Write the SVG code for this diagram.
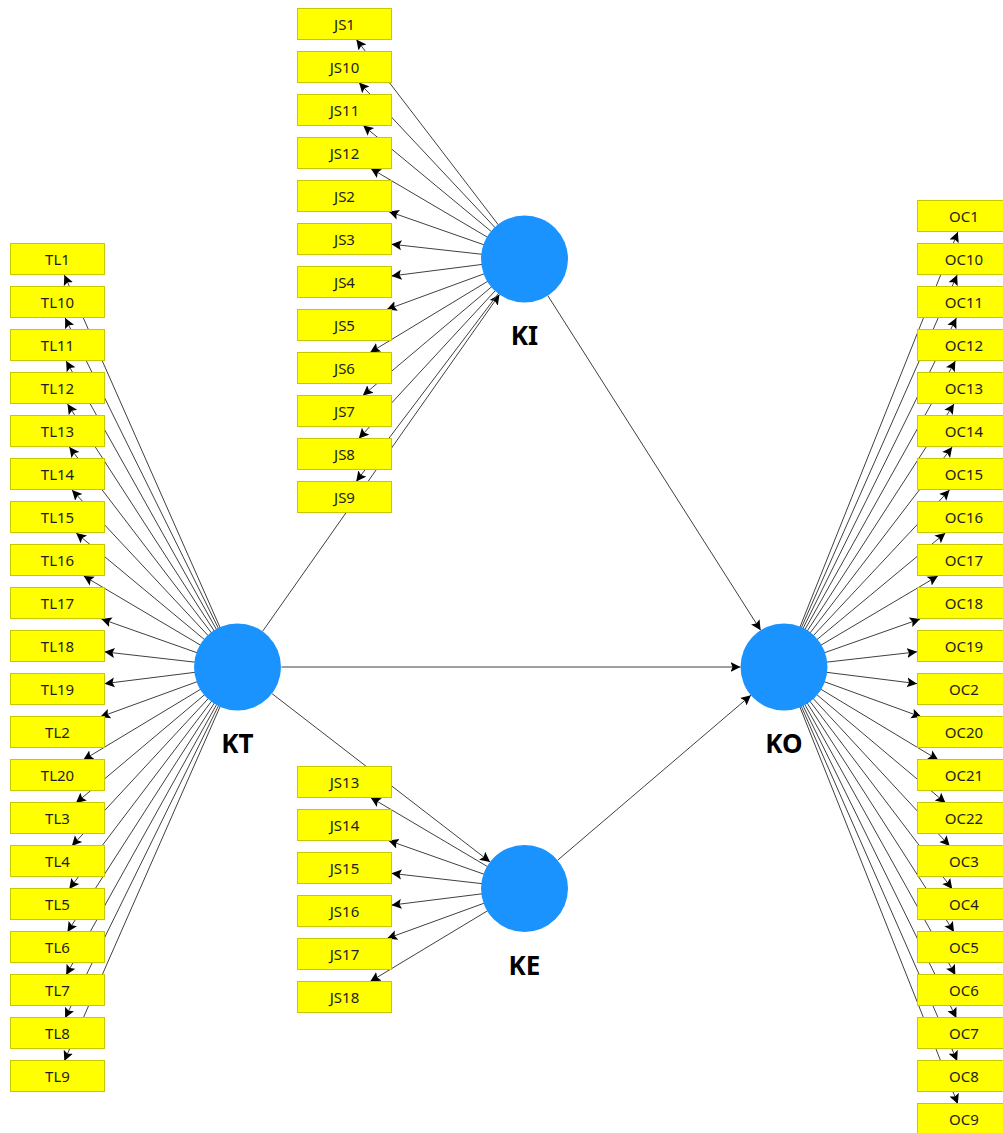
<svg xmlns="http://www.w3.org/2000/svg" width="1003" height="1133" viewBox="0 0 1003 1133">
<style>
.box{fill:#ffff00;stroke:#c8c800;stroke-width:1}
.bt{font-family:"Noto Sans","Liberation Sans",sans-serif;font-size:15px;fill:#1e1e1e;text-anchor:middle}
.lv{fill:#1a93ff}
.lt{font-family:"Noto Sans","Liberation Sans",sans-serif;font-size:26px;font-weight:bold;fill:#000;text-anchor:middle}
.c{stroke:#404040;stroke-width:1;fill:none;marker-end:url(#ah)}
</style>
<defs>
<marker id="ah" markerUnits="userSpaceOnUse" markerWidth="12" markerHeight="12" refX="10" refY="5.5" orient="auto">
<path d="M0,0.5 L10,5.5 L0,10.5 L2,5.5 Z" fill="#000"/>
</marker>
</defs>
<rect width="1003" height="1133" fill="#fff"/>
<g id="connectors">
<line class="c" x1="262.53" y1="631.42" x2="499.47" y2="294.58"/>
<line class="c" x1="281.5" y1="667" x2="740.5" y2="667"/>
<line class="c" x1="271.94" y1="693.58" x2="490.06" y2="861.92"/>
<line class="c" x1="547.85" y1="295.71" x2="760.65" y2="630.29"/>
<line class="c" x1="557.59" y1="860.26" x2="750.91" y2="695.24"/>
<line class="c" x1="524.5" y1="259" x2="356.37" y2="39.5"/>
<line class="c" x1="524.5" y1="259" x2="359.03" y2="82.5"/>
<line class="c" x1="524.5" y1="259" x2="363.22" y2="125.5"/>
<line class="c" x1="524.5" y1="259" x2="370.82" y2="168.5"/>
<line class="c" x1="524.5" y1="259" x2="388.79" y2="211.5"/>
<line class="c" x1="524.5" y1="259" x2="391.5" y2="244.22"/>
<line class="c" x1="524.5" y1="259" x2="391.5" y2="276"/>
<line class="c" x1="524.5" y1="259" x2="386.77" y2="309.5"/>
<line class="c" x1="524.5" y1="259" x2="370.1" y2="352.5"/>
<line class="c" x1="524.5" y1="259" x2="362.85" y2="395.5"/>
<line class="c" x1="524.5" y1="259" x2="358.81" y2="438.5"/>
<line class="c" x1="524.5" y1="259" x2="356.22" y2="481.5"/>
<line class="c" x1="524.5" y1="888.5" x2="370.7" y2="797.5"/>
<line class="c" x1="524.5" y1="888.5" x2="388.44" y2="840.5"/>
<line class="c" x1="524.5" y1="888.5" x2="391.5" y2="873.35"/>
<line class="c" x1="524.5" y1="888.5" x2="391.5" y2="905.13"/>
<line class="c" x1="524.5" y1="888.5" x2="387.1" y2="938.5"/>
<line class="c" x1="524.5" y1="888.5" x2="370.21" y2="981.5"/>
<line class="c" x1="237.5" y1="667" x2="64.35" y2="275"/>
<line class="c" x1="237.5" y1="667" x2="65.15" y2="318"/>
<line class="c" x1="237.5" y1="667" x2="66.18" y2="361"/>
<line class="c" x1="237.5" y1="667" x2="67.52" y2="404"/>
<line class="c" x1="237.5" y1="667" x2="69.35" y2="447"/>
<line class="c" x1="237.5" y1="667" x2="71.99" y2="490"/>
<line class="c" x1="237.5" y1="667" x2="76.16" y2="533"/>
<line class="c" x1="237.5" y1="667" x2="83.7" y2="576"/>
<line class="c" x1="237.5" y1="667" x2="101.44" y2="619"/>
<line class="c" x1="237.5" y1="667" x2="104.5" y2="651.85"/>
<line class="c" x1="237.5" y1="667" x2="104.5" y2="683.63"/>
<line class="c" x1="237.5" y1="667" x2="100.1" y2="717"/>
<line class="c" x1="237.5" y1="667" x2="83.21" y2="760"/>
<line class="c" x1="237.5" y1="667" x2="75.92" y2="803"/>
<line class="c" x1="237.5" y1="667" x2="71.84" y2="846"/>
<line class="c" x1="237.5" y1="667" x2="69.25" y2="889"/>
<line class="c" x1="237.5" y1="667" x2="67.45" y2="932"/>
<line class="c" x1="237.5" y1="667" x2="66.12" y2="975"/>
<line class="c" x1="237.5" y1="667" x2="65.11" y2="1018"/>
<line class="c" x1="237.5" y1="667" x2="64.31" y2="1061"/>
<line class="c" x1="784" y1="667" x2="957.81" y2="232"/>
<line class="c" x1="784" y1="667" x2="957.15" y2="275"/>
<line class="c" x1="784" y1="667" x2="956.35" y2="318"/>
<line class="c" x1="784" y1="667" x2="955.32" y2="361"/>
<line class="c" x1="784" y1="667" x2="953.98" y2="404"/>
<line class="c" x1="784" y1="667" x2="952.15" y2="447"/>
<line class="c" x1="784" y1="667" x2="949.51" y2="490"/>
<line class="c" x1="784" y1="667" x2="945.34" y2="533"/>
<line class="c" x1="784" y1="667" x2="937.8" y2="576"/>
<line class="c" x1="784" y1="667" x2="920.06" y2="619"/>
<line class="c" x1="784" y1="667" x2="917" y2="651.85"/>
<line class="c" x1="784" y1="667" x2="917" y2="683.63"/>
<line class="c" x1="784" y1="667" x2="921.4" y2="717"/>
<line class="c" x1="784" y1="667" x2="938.29" y2="760"/>
<line class="c" x1="784" y1="667" x2="945.58" y2="803"/>
<line class="c" x1="784" y1="667" x2="949.66" y2="846"/>
<line class="c" x1="784" y1="667" x2="952.25" y2="889"/>
<line class="c" x1="784" y1="667" x2="954.05" y2="932"/>
<line class="c" x1="784" y1="667" x2="955.38" y2="975"/>
<line class="c" x1="784" y1="667" x2="956.39" y2="1018"/>
<line class="c" x1="784" y1="667" x2="957.19" y2="1061"/>
<line class="c" x1="784" y1="667" x2="957.83" y2="1104"/>
</g>
<g id="KI"><circle class="lv" cx="524.5" cy="259" r="43.5"/><text class="lt" x="524.5" y="345">KI</text></g>
<g id="KT"><circle class="lv" cx="237.5" cy="667" r="43.5"/><text class="lt" x="237.5" y="753">KT</text></g>
<g id="KE"><circle class="lv" cx="524.5" cy="888.5" r="43.5"/><text class="lt" x="524.5" y="975">KE</text></g>
<g id="KO"><circle class="lv" cx="784" cy="667" r="43.5"/><text class="lt" x="784" y="753">KO</text></g>
<g id="JS1"><rect class="box" x="297.5" y="8.5" width="94" height="31"/><text class="bt" x="344.5" y="29.5">JS1</text></g>
<g id="JS10"><rect class="box" x="297.5" y="51.5" width="94" height="31"/><text class="bt" x="344.5" y="72.5">JS10</text></g>
<g id="JS11"><rect class="box" x="297.5" y="94.5" width="94" height="31"/><text class="bt" x="344.5" y="115.5">JS11</text></g>
<g id="JS12"><rect class="box" x="297.5" y="137.5" width="94" height="31"/><text class="bt" x="344.5" y="158.5">JS12</text></g>
<g id="JS2"><rect class="box" x="297.5" y="180.5" width="94" height="31"/><text class="bt" x="344.5" y="201.5">JS2</text></g>
<g id="JS3"><rect class="box" x="297.5" y="223.5" width="94" height="31"/><text class="bt" x="344.5" y="244.5">JS3</text></g>
<g id="JS4"><rect class="box" x="297.5" y="266.5" width="94" height="31"/><text class="bt" x="344.5" y="287.5">JS4</text></g>
<g id="JS5"><rect class="box" x="297.5" y="309.5" width="94" height="31"/><text class="bt" x="344.5" y="330.5">JS5</text></g>
<g id="JS6"><rect class="box" x="297.5" y="352.5" width="94" height="31"/><text class="bt" x="344.5" y="373.5">JS6</text></g>
<g id="JS7"><rect class="box" x="297.5" y="395.5" width="94" height="31"/><text class="bt" x="344.5" y="416.5">JS7</text></g>
<g id="JS8"><rect class="box" x="297.5" y="438.5" width="94" height="31"/><text class="bt" x="344.5" y="459.5">JS8</text></g>
<g id="JS9"><rect class="box" x="297.5" y="481.5" width="94" height="31"/><text class="bt" x="344.5" y="502.5">JS9</text></g>
<g id="JS13"><rect class="box" x="297.5" y="766.5" width="94" height="31"/><text class="bt" x="344.5" y="787.5">JS13</text></g>
<g id="JS14"><rect class="box" x="297.5" y="809.5" width="94" height="31"/><text class="bt" x="344.5" y="830.5">JS14</text></g>
<g id="JS15"><rect class="box" x="297.5" y="852.5" width="94" height="31"/><text class="bt" x="344.5" y="873.5">JS15</text></g>
<g id="JS16"><rect class="box" x="297.5" y="895.5" width="94" height="31"/><text class="bt" x="344.5" y="916.5">JS16</text></g>
<g id="JS17"><rect class="box" x="297.5" y="938.5" width="94" height="31"/><text class="bt" x="344.5" y="959.5">JS17</text></g>
<g id="JS18"><rect class="box" x="297.5" y="981.5" width="94" height="31"/><text class="bt" x="344.5" y="1002.5">JS18</text></g>
<g id="TL1"><rect class="box" x="10.5" y="243.5" width="94" height="31"/><text class="bt" x="57.5" y="264.5">TL1</text></g>
<g id="TL10"><rect class="box" x="10.5" y="286.5" width="94" height="31"/><text class="bt" x="57.5" y="307.5">TL10</text></g>
<g id="TL11"><rect class="box" x="10.5" y="329.5" width="94" height="31"/><text class="bt" x="57.5" y="350.5">TL11</text></g>
<g id="TL12"><rect class="box" x="10.5" y="372.5" width="94" height="31"/><text class="bt" x="57.5" y="393.5">TL12</text></g>
<g id="TL13"><rect class="box" x="10.5" y="415.5" width="94" height="31"/><text class="bt" x="57.5" y="436.5">TL13</text></g>
<g id="TL14"><rect class="box" x="10.5" y="458.5" width="94" height="31"/><text class="bt" x="57.5" y="479.5">TL14</text></g>
<g id="TL15"><rect class="box" x="10.5" y="501.5" width="94" height="31"/><text class="bt" x="57.5" y="522.5">TL15</text></g>
<g id="TL16"><rect class="box" x="10.5" y="544.5" width="94" height="31"/><text class="bt" x="57.5" y="565.5">TL16</text></g>
<g id="TL17"><rect class="box" x="10.5" y="587.5" width="94" height="31"/><text class="bt" x="57.5" y="608.5">TL17</text></g>
<g id="TL18"><rect class="box" x="10.5" y="630.5" width="94" height="31"/><text class="bt" x="57.5" y="651.5">TL18</text></g>
<g id="TL19"><rect class="box" x="10.5" y="673.5" width="94" height="31"/><text class="bt" x="57.5" y="694.5">TL19</text></g>
<g id="TL2"><rect class="box" x="10.5" y="716.5" width="94" height="31"/><text class="bt" x="57.5" y="737.5">TL2</text></g>
<g id="TL20"><rect class="box" x="10.5" y="759.5" width="94" height="31"/><text class="bt" x="57.5" y="780.5">TL20</text></g>
<g id="TL3"><rect class="box" x="10.5" y="802.5" width="94" height="31"/><text class="bt" x="57.5" y="823.5">TL3</text></g>
<g id="TL4"><rect class="box" x="10.5" y="845.5" width="94" height="31"/><text class="bt" x="57.5" y="866.5">TL4</text></g>
<g id="TL5"><rect class="box" x="10.5" y="888.5" width="94" height="31"/><text class="bt" x="57.5" y="909.5">TL5</text></g>
<g id="TL6"><rect class="box" x="10.5" y="931.5" width="94" height="31"/><text class="bt" x="57.5" y="952.5">TL6</text></g>
<g id="TL7"><rect class="box" x="10.5" y="974.5" width="94" height="31"/><text class="bt" x="57.5" y="995.5">TL7</text></g>
<g id="TL8"><rect class="box" x="10.5" y="1017.5" width="94" height="31"/><text class="bt" x="57.5" y="1038.5">TL8</text></g>
<g id="TL9"><rect class="box" x="10.5" y="1060.5" width="94" height="31"/><text class="bt" x="57.5" y="1081.5">TL9</text></g>
<g id="OC1"><rect class="box" x="917.5" y="200.5" width="94" height="31"/><text class="bt" x="964" y="221.5">OC1</text></g>
<g id="OC10"><rect class="box" x="917.5" y="243.5" width="94" height="31"/><text class="bt" x="964" y="264.5">OC10</text></g>
<g id="OC11"><rect class="box" x="917.5" y="286.5" width="94" height="31"/><text class="bt" x="964" y="307.5">OC11</text></g>
<g id="OC12"><rect class="box" x="917.5" y="329.5" width="94" height="31"/><text class="bt" x="964" y="350.5">OC12</text></g>
<g id="OC13"><rect class="box" x="917.5" y="372.5" width="94" height="31"/><text class="bt" x="964" y="393.5">OC13</text></g>
<g id="OC14"><rect class="box" x="917.5" y="415.5" width="94" height="31"/><text class="bt" x="964" y="436.5">OC14</text></g>
<g id="OC15"><rect class="box" x="917.5" y="458.5" width="94" height="31"/><text class="bt" x="964" y="479.5">OC15</text></g>
<g id="OC16"><rect class="box" x="917.5" y="501.5" width="94" height="31"/><text class="bt" x="964" y="522.5">OC16</text></g>
<g id="OC17"><rect class="box" x="917.5" y="544.5" width="94" height="31"/><text class="bt" x="964" y="565.5">OC17</text></g>
<g id="OC18"><rect class="box" x="917.5" y="587.5" width="94" height="31"/><text class="bt" x="964" y="608.5">OC18</text></g>
<g id="OC19"><rect class="box" x="917.5" y="630.5" width="94" height="31"/><text class="bt" x="964" y="651.5">OC19</text></g>
<g id="OC2"><rect class="box" x="917.5" y="673.5" width="94" height="31"/><text class="bt" x="964" y="694.5">OC2</text></g>
<g id="OC20"><rect class="box" x="917.5" y="716.5" width="94" height="31"/><text class="bt" x="964" y="737.5">OC20</text></g>
<g id="OC21"><rect class="box" x="917.5" y="759.5" width="94" height="31"/><text class="bt" x="964" y="780.5">OC21</text></g>
<g id="OC22"><rect class="box" x="917.5" y="802.5" width="94" height="31"/><text class="bt" x="964" y="823.5">OC22</text></g>
<g id="OC3"><rect class="box" x="917.5" y="845.5" width="94" height="31"/><text class="bt" x="964" y="866.5">OC3</text></g>
<g id="OC4"><rect class="box" x="917.5" y="888.5" width="94" height="31"/><text class="bt" x="964" y="909.5">OC4</text></g>
<g id="OC5"><rect class="box" x="917.5" y="931.5" width="94" height="31"/><text class="bt" x="964" y="952.5">OC5</text></g>
<g id="OC6"><rect class="box" x="917.5" y="974.5" width="94" height="31"/><text class="bt" x="964" y="995.5">OC6</text></g>
<g id="OC7"><rect class="box" x="917.5" y="1017.5" width="94" height="31"/><text class="bt" x="964" y="1038.5">OC7</text></g>
<g id="OC8"><rect class="box" x="917.5" y="1060.5" width="94" height="31"/><text class="bt" x="964" y="1081.5">OC8</text></g>
<g id="OC9"><rect class="box" x="917.5" y="1103.5" width="94" height="31"/><text class="bt" x="964" y="1124.5">OC9</text></g>
</svg>
